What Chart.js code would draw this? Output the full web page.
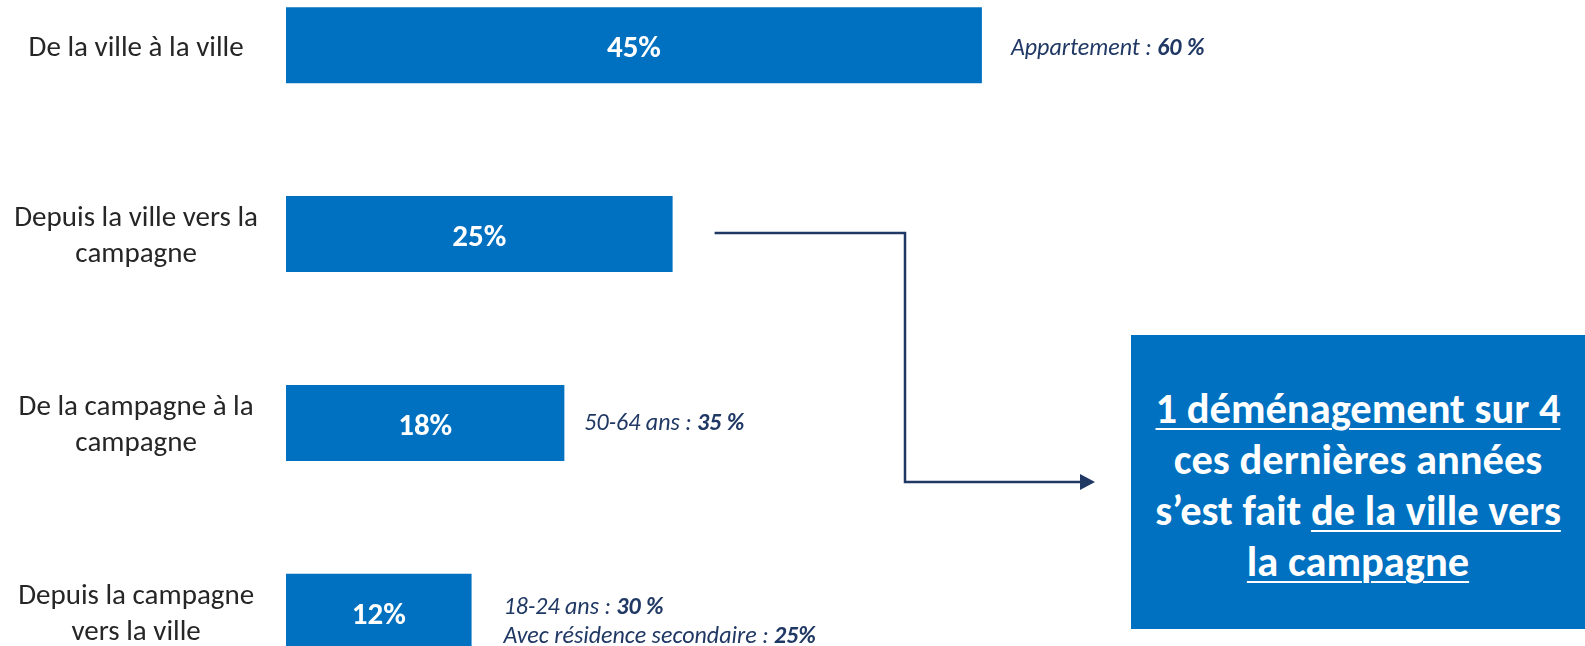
<!DOCTYPE html>
<html>
<head>
<meta charset="utf-8">
<script src="https://cdn.jsdelivr.net/npm/chart.js@4/dist/chart.umd.min.js"></script>
<style>
  html, body { margin: 0; padding: 0; background: #ffffff; overflow: hidden; }
  #wrap { position: relative; width: 1585px; height: 646px; }
  #c { position: absolute; left: 0; top: 0; }
  #box {
    position: absolute; background: #0070C0; color: #ffffff;
    display: flex; align-items: center; justify-content: center; text-align: center;
    font-weight: bold; box-sizing: border-box; padding-top: 6px;
  }
  #box u { text-decoration-thickness: 2px; text-underline-offset: 5px; }
</style>
</head>
<body>
<div id="wrap">
  <canvas id="c" width="1585" height="646"></canvas>
  <div id="box"><div id="boxText"></div></div>
</div>
<script>
// ---- data ----
const categories = [
  ["De la ville à la ville"],
  ["Depuis la ville vers la", "campagne"],
  ["De la campagne à la", "campagne"],
  ["Depuis la campagne", "vers la ville"]
];
const values = [45, 25, 18, 12];
const valueLabels = ["45%", "25%", "18%", "12%"];
const noteLabels = [["Appartement : "], [], ["50-64 ans : "], ["18-24 ans : ", "Avec résidence secondaire : "]];
const noteValues = [["60 %"], [], ["35 %"], ["30 %", "25%"]];
const calloutLines = [
  [["1 déménagement sur 4", true]],
  [["ces dernières années", false]],
  [["s’est fait ", false], ["de la ville vers", true]],
  [["la campagne", true]]
];

// ---- style / layout ----
const FONT = '"Carlito", "Lato", sans-serif';
const BLUE = '#0070C0';
const NAVY = '#203864';
const BOX = { left: 1131, top: 335, width: 454, height: 294 };
const noteLayout = [ { dx: 29, dy: [10] }, null, { dx: 20, dy: [7] }, { dx: 32, dy: [2, 31] } ];

// callout box (HTML text)
const box = document.getElementById('box');
Object.assign(box.style, { left: BOX.left + 'px', top: BOX.top + 'px', width: BOX.width + 'px', height: BOX.height + 'px' });
const boxText = document.getElementById('boxText');
Object.assign(boxText.style, { fontFamily: FONT, fontSize: '42.5px', lineHeight: '51px' });
calloutLines.forEach(line => {
  const div = document.createElement('div');
  line.forEach(([t, u]) => {
    const el = document.createElement(u ? 'u' : 'span');
    el.textContent = t;
    div.appendChild(el);
  });
  boxText.appendChild(div);
});

const overlay = {
  id: 'overlay',
  afterDatasetsDraw(chart) {
    const ctx = chart.ctx;
    const meta = chart.getDatasetMeta(0);
    ctx.save();
    meta.data.forEach((bar, i) => {
      ctx.fillStyle = '#ffffff';
      ctx.font = 'bold 31px ' + FONT;
      ctx.textAlign = 'center';
      ctx.textBaseline = 'alphabetic';
      ctx.fillText(valueLabels[i], (bar.base + bar.x) / 2, bar.y + 12);
      const nl = noteLayout[i];
      if (!nl) return;
      noteLabels[i].forEach((lab, j) => {
        let x = bar.x + nl.dx;
        const y = bar.y + nl.dy[j];
        ctx.textAlign = 'left';
        ctx.fillStyle = NAVY;
        ctx.font = 'italic 24px ' + FONT;
        ctx.fillText(lab, x, y);
        x += ctx.measureText(lab).width;
        ctx.font = 'italic bold 24px ' + FONT;
        ctx.fillText(noteValues[i][j], x, y);
      });
    });
    // connector arrow from bar 2 to the callout box
    const b = meta.data[1];
    const x0 = b.x + 42, y0 = b.y - 1;
    const xv = BOX.left - 226;
    const y1 = BOX.top + BOX.height / 2;
    const tip = BOX.left - 36;
    ctx.strokeStyle = NAVY;
    ctx.fillStyle = NAVY;
    ctx.lineWidth = 2.5;
    ctx.lineJoin = 'miter';
    ctx.beginPath();
    ctx.moveTo(x0, y0);
    ctx.lineTo(xv, y0);
    ctx.lineTo(xv, y1);
    ctx.lineTo(tip - 12, y1);
    ctx.stroke();
    ctx.beginPath();
    ctx.moveTo(tip, y1);
    ctx.lineTo(tip - 15, y1 - 8);
    ctx.lineTo(tip - 15, y1 + 8);
    ctx.closePath();
    ctx.fill();
    ctx.restore();
  }
};

new Chart(document.getElementById('c'), {
  type: 'bar',
  data: {
    labels: categories,
    datasets: [{
      data: values,
      backgroundColor: BLUE,
      borderWidth: 0,
      categoryPercentage: 1,
      barPercentage: 0.4025,
      clip: false
    }]
  },
  options: {
    indexAxis: 'y',
    responsive: false,
    animation: false,
    events: [],
    layout: { padding: { top: 45.3, bottom: 34.3, left: 0, right: 0 } },
    plugins: { legend: { display: false }, tooltip: { enabled: false } },
    scales: {
      x: { display: false, min: 0, max: 84 },
      y: {
        offset: false,
        grid: { display: false },
        border: { display: false },
        ticks: {
          crossAlign: 'center',
          padding: 20,
          labelOffset: 3,
          color: '#262626',
          font: { family: FONT, size: 29, lineHeight: 1.25 }
        },
        afterFit(s) { s.width = 286; s.paddingTop = 0; s.paddingBottom = 0; }
      }
    }
  },
  plugins: [overlay]
});
</script>
</body>
</html>
